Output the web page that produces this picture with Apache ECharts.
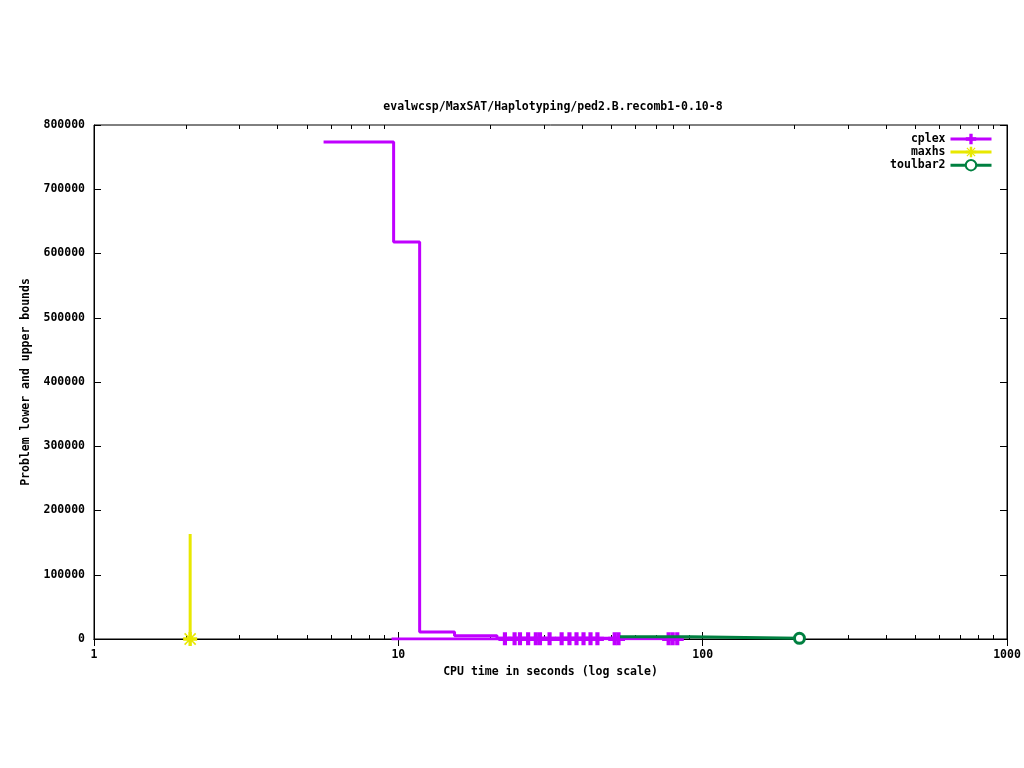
<!DOCTYPE html>
<html>
<head>
<meta charset="utf-8">
<title>ped2.B.recomb1-0.10-8</title>
<script src="https://cdn.jsdelivr.net/npm/echarts@6/dist/echarts.min.js"></script>
<style>
  html, body { margin: 0; padding: 0; background: #fff; }
  #chart { width: 1024px; height: 768px; }
</style>
</head>
<body>
<div id="chart"></div>
<script>
// values (time in seconds, bound value)
const cplexUbTime = [5.68, 9.65, 11.75, 15.3, 21.1, 86.3]
const cplexUbValue = [773500, 618000, 10900, 5100, 1100, 1100]

const cplexLbTime = [9.5, 22.4, 24.1, 25.1, 26.7, 28.3, 29.2, 31.4, 34.4, 36.5, 38.5, 40.6, 42.8, 45.1, 51.4, 52.9, 77.3, 79.7, 82.5, 86.3]
const cplexLbValue = [0, 300, 300, 300, 300, 300, 300, 300, 300, 300, 300, 300, 300, 300, 300, 300, 300, 300, 300, 300]

const maxhsTime = [2.07, 2.07]
const maxhsValue = [163400, 0]

const toulbar2Time = [53.5, 91, 208]
const toulbar2Value = [3600, 1000, 1000]

const minorTicks = [2, 3, 4, 5, 6, 7, 8, 9, 20, 30, 40, 50, 60, 70, 80, 90, 200, 300, 400, 500, 600, 700, 800, 900]

const FONT = 'DejaVu Sans Mono'
const plusPath = 'path://M3.4,0H6.6V3.4H10V6.6H6.6V10H3.4V6.6H0V3.4H3.4Z'
const starPath = 'path://M3.8,0H6.2V3.1L8.5,0.6L9.4,1.5L6.9,3.8H10V6.2H6.9L9.4,8.5L8.5,9.4L6.2,6.9V10H3.8V6.9L1.5,9.4L0.6,8.5L3.1,6.2H0V3.8H3.1L0.6,1.5L1.5,0.6L3.8,3.1Z'

function pairs(xs, ys) {
  return xs.map((x, i) => [x, ys[i]])
}

// only the inner points of the lower bound carry a marker
const cplexLbData = pairs(cplexLbTime, cplexLbValue).map((p, i) => {
  if (i === 0 || i === cplexLbTime.length - 1) {
    return { value: p, symbol: 'none' }
  }
  return { value: p }
})
const maxhsData = pairs(maxhsTime, maxhsValue).map((p, i) => {
  return i === maxhsTime.length - 1 ? { value: p } : { value: p, symbol: 'none' }
})
const toulbar2Data = pairs(toulbar2Time, toulbar2Value).map((p, i) => {
  return i === toulbar2Time.length - 1 ? { value: p } : { value: p, symbol: 'none' }
})

const chart = echarts.init(document.getElementById('chart'))

const labelStyle = { color: '#000', fontFamily: FONT, fontWeight: 'bold', fontSize: 11.5 }

const option = {
  animation: false,
  backgroundColor: '#fff',
  title: {
    text: 'evalwcsp/MaxSAT/Haplotyping/ped2.B.recomb1-0.10-8',
    left: 548,
    top: 96,
    textAlign: 'center',
    textStyle: labelStyle
  },
  legend: {
    data: ['cplex', 'maxhs', 'toulbar2'],
    orient: 'vertical',
    right: 26,
    top: 128,
    align: 'right',
    itemWidth: 41,
    itemHeight: 13,
    itemGap: 1,
    lineStyle: { width: 3 },
    textStyle: labelStyle
  },
  grid: {
    left: 94,
    right: 17,
    top: 125,
    bottom: 129,
    show: true,
    borderColor: '#000',
    borderWidth: 1
  },
  xAxis: [
    {
      type: 'log',
      logBase: 10,
      min: 1,
      max: 1000,
      name: 'CPU time in seconds (log scale)',
      nameLocation: 'middle',
      nameGap: 27,
      nameTextStyle: labelStyle,
      axisLine: { lineStyle: { color: '#000', width: 1 } },
      axisTick: { inside: true, length: 7, lineStyle: { color: '#000' } },
      axisLabel: Object.assign({ margin: 10, formatter: v => String(v) }, labelStyle),
      splitLine: { show: false }
    },
    {
      type: 'log',
      logBase: 10,
      min: 1,
      max: 1000,
      position: 'top',
      axisLine: { lineStyle: { color: '#000', width: 1 } },
      axisTick: { inside: true, length: 7, lineStyle: { color: '#000' } },
      axisLabel: { show: false },
      splitLine: { show: false }
    }
  ],
  yAxis: [
    {
      type: 'value',
      min: 0,
      max: 800000,
      interval: 100000,
      name: 'Problem lower and upper bounds',
      nameLocation: 'middle',
      nameGap: 62,
      nameTextStyle: labelStyle,
      axisLine: { show: true, lineStyle: { color: '#000', width: 1 } },
      axisTick: { show: true, inside: true, length: 7, lineStyle: { color: '#000' } },
      axisLabel: Object.assign({ margin: 9, formatter: v => String(v) }, labelStyle),
      splitLine: { show: false }
    },
    {
      type: 'value',
      min: 0,
      max: 800000,
      interval: 100000,
      position: 'right',
      axisLine: { show: true, lineStyle: { color: '#000', width: 1 } },
      axisTick: { show: true, inside: true, length: 7, lineStyle: { color: '#000' } },
      axisLabel: { show: false },
      splitLine: { show: false }
    }
  ],
  series: [
    {
      // minor log ticks, bottom and top
      type: 'custom',
      silent: true,
      z: 1,
      data: minorTicks.map(v => [v, 0]),
      renderItem(params, api) {
        const b = api.coord([api.value(0), 0])
        const t = api.coord([api.value(0), 800000])
        const x = Math.round(b[0]) + 0.5
        return {
          type: 'group',
          children: [
            { type: 'line', shape: { x1: x, y1: b[1], x2: x, y2: b[1] - 4 }, style: { stroke: '#000', lineWidth: 1 } },
            { type: 'line', shape: { x1: x, y1: t[1], x2: x, y2: t[1] + 4 }, style: { stroke: '#000', lineWidth: 1 } }
          ]
        }
      }
    },
    {
      name: 'cplex',
      type: 'line',
      step: 'end',
      symbol: plusPath,
      symbolSize: 13,
      showSymbol: true,
      color: '#c000ff',
      lineStyle: { width: 3, color: '#c000ff' },
      itemStyle: { color: '#c000ff' },
      data: cplexLbData,
      z: 3
    },
    {
      name: 'cplex',
      type: 'line',
      step: 'end',
      symbol: plusPath,
      showSymbol: false,
      color: '#c000ff',
      lineStyle: { width: 3, color: '#c000ff' },
      itemStyle: { color: '#c000ff' },
      data: pairs(cplexUbTime, cplexUbValue),
      z: 3
    },
    {
      name: 'maxhs',
      type: 'line',
      symbol: starPath,
      symbolSize: 14,
      color: '#e8e800',
      lineStyle: { width: 3, color: '#e8e800' },
      itemStyle: { color: '#e8e800' },
      data: maxhsData,
      z: 4
    },
    {
      name: 'toulbar2',
      type: 'line',
      step: 'end',
      symbol: 'circle',
      symbolSize: 10,
      color: '#008040',
      lineStyle: { width: 3, color: '#008040' },
      itemStyle: { color: '#ffffff', borderWidth: 3, borderColor: '#008040' },
      data: toulbar2Data,
      z: 4
    }
  ]
}

chart.setOption(option)
</script>
</body>
</html>
